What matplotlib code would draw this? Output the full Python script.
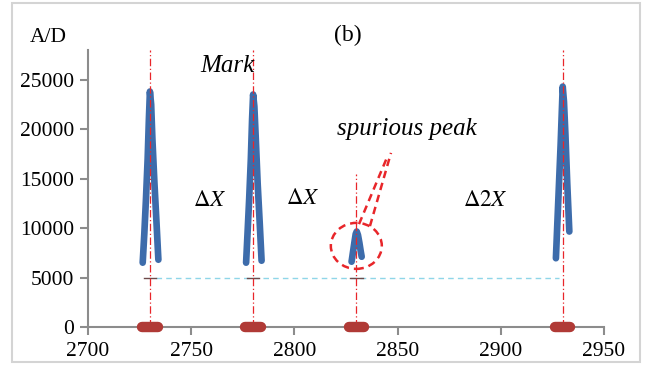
import matplotlib.pyplot as plt
from matplotlib.patches import Ellipse, Rectangle
import numpy as np

# peak traces (x, A/D)
p1_x = [2726.5, 2727.3, 2728.1, 2728.9, 2729.5, 2730.0, 2730.6, 2731.2, 2732.2, 2733.2, 2734.1]
p1_y = [6500, 9500, 13000, 17000, 21000, 23800, 22500, 19000, 14500, 10500, 6800]
p2_x = [2776.6, 2777.3, 2778.1, 2778.9, 2779.5, 2780.0, 2780.6, 2781.3, 2782.2, 2783.2, 2784.1]
p2_y = [6500, 9500, 13000, 17000, 21000, 23500, 22300, 19000, 14500, 10500, 6700]
p3_x = [2827.7, 2828.4, 2829.1, 2829.7, 2830.2, 2830.8, 2831.5, 2832.1, 2832.6]
p3_y = [6600, 7600, 8600, 9400, 9650, 9300, 8500, 7700, 7100]
p4_x = [2926.7, 2927.4, 2928.2, 2929.0, 2929.6, 2930.0, 2930.6, 2931.3, 2932.2, 2933.2]
p4_y = [6950, 10500, 14500, 18500, 22000, 24300, 22800, 19500, 14500, 9650]
peaks = [(p1_x, p1_y), (p2_x, p2_y), (p3_x, p3_y), (p4_x, p4_y)]

# mark positions and vertical guide heights
mark_x = [2730, 2780, 2830, 2930]
mark_top = [28000, 28000, 15500, 28000]
mark_half = 3.7          # half width of the red bar on the axis
threshold = 5000
thr_from, thr_to = 2733, 2928

# spurious-peak callout
circ_xy = (2830, 8200)
circ_w, circ_h = 24.7, 4650
call_l_x, call_l_y = [2831.3, 2845.2], [10400, 17300]
call_r_x, call_r_y = [2836.6, 2846.8], [10200, 17600]

serif = ['Liberation Serif', 'DejaVu Serif']
plt.rcParams['font.family'] = serif
plt.rcParams['mathtext.fontset'] = 'stix'

fig = plt.figure(figsize=(6.45, 3.65), dpi=100)
fig.patches.append(Rectangle((12 / 645, 3 / 365), 628 / 645, 359 / 365, transform=fig.transFigure,
                             fill=False, edgecolor='#d4d4d4', lw=1.5))
ax = fig.add_axes([88 / 645, 1 - 327 / 365, 516 / 645, 277 / 365])

blue = '#3d6cab'
red = '#e8262a'

# threshold line and small ticks
ax.plot([thr_from, thr_to], [threshold, threshold], color='#8fd6e8', lw=1, ls=(0, (4, 3)), zorder=1)
for xm in mark_x[:3]:
    ax.plot([xm - 3, xm + 3], [threshold, threshold], color='#6d4a4a', lw=1, zorder=2)

for xs, ys in peaks:
    ax.plot(xs, ys, color=blue, lw=4.8, solid_capstyle='round', solid_joinstyle='round', zorder=3)

for xm, top in zip(mark_x, mark_top):
    ax.plot([xm, xm], [0, top], color=red, lw=0.9, ls=(0, (6, 2, 1, 2)), zorder=4)
    ax.plot([xm - mark_half, xm + mark_half], [0, 0], color='#b03a36', lw=7.5,
            solid_capstyle='round', zorder=5, clip_on=False)

ax.add_patch(Ellipse(circ_xy, circ_w, circ_h, fill=False, edgecolor=red, lw=1.8, ls=(0, (3, 2)), zorder=4))
ax.plot(call_l_x, call_l_y, color=red, lw=1.8, ls=(0, (3, 2)), zorder=4)
ax.plot(call_r_x, call_r_y, color=red, lw=1.8, ls=(0, (3, 2)), zorder=4)

ax.set_xlim(2700, 2950)
ax.set_ylim(0, 28000)
ax.set_xticks(np.arange(2700, 2951, 50))
ax.set_yticks(np.arange(0, 25001, 5000))
for s in ['top', 'right']:
    ax.spines[s].set_visible(False)
for s in ['left', 'bottom']:
    ax.spines[s].set_color('#8c8c8c')
    ax.spines[s].set_linewidth(1.5)
ax.tick_params(colors='#8c8c8c', labelcolor='black', labelsize=15.5, width=1.5, length=6, direction='out')
ax.tick_params(axis='x', pad=5)
ax.tick_params(axis='y', pad=4)

fig.text(48 / 645, 1 - 37 / 365, 'A/D', ha='center', va='center', fontsize=15.5)
fig.text(348 / 645, 1 - 35 / 365, '(b)', ha='center', va='center', fontsize=17)
fig.text(227 / 645, 1 - 66 / 365, 'Mark', ha='center', va='center', fontsize=18, style='italic')
fig.text(407 / 645, 1 - 129 / 365, 'spurious peak', ha='center', va='center', fontsize=18, style='italic')
fig.text(210 / 645, 1 - 200 / 365, r'$\Delta X$', ha='center', va='center', fontsize=16.5)
fig.text(303 / 645, 1 - 199 / 365, r'$\Delta X$', ha='center', va='center', fontsize=16.5)
fig.text(485 / 645, 1 - 200 / 365, r'$\Delta 2X$', ha='center', va='center', fontsize=16.5)

fig.savefig('out.png', dpi=100)
